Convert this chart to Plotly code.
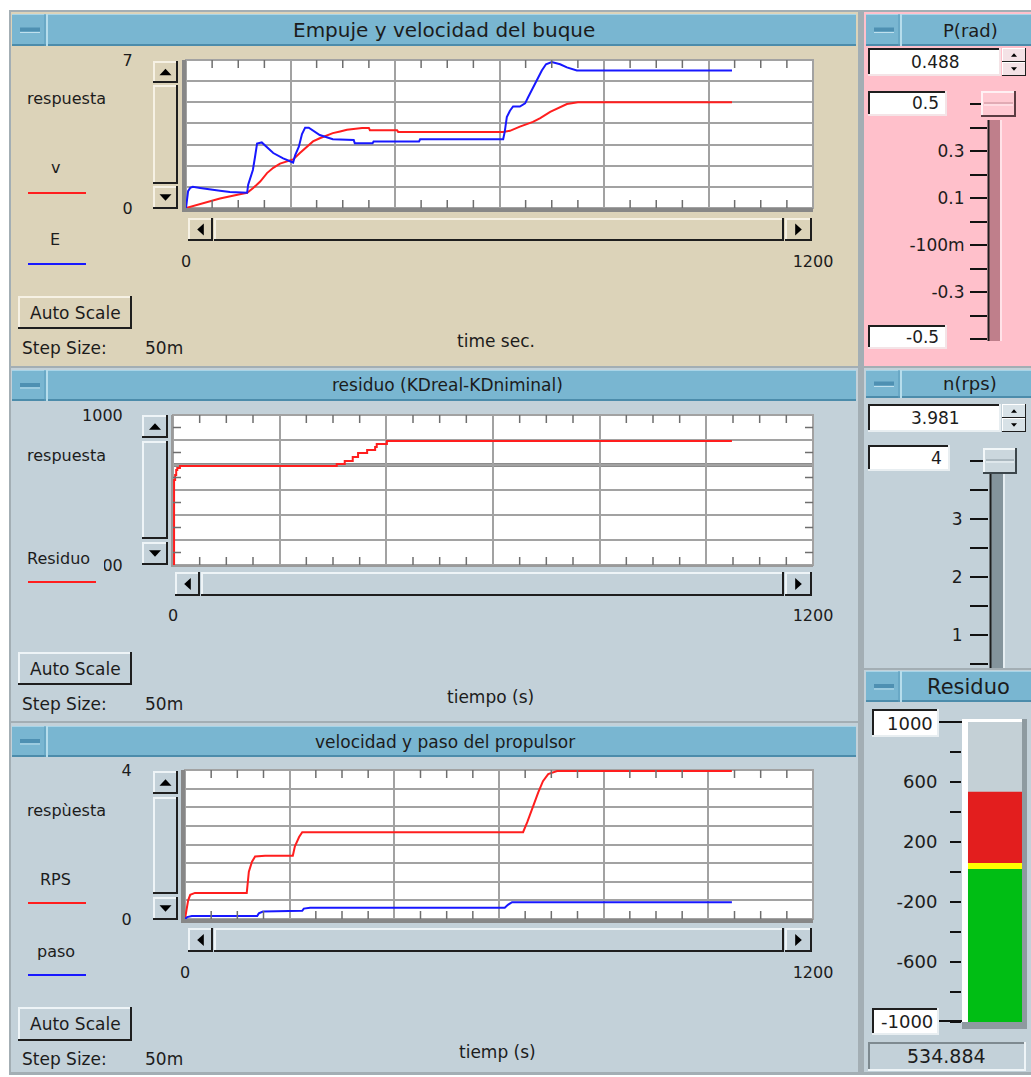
import plotly.graph_objects as go

W, H = 1031, 1077
FONT = "DejaVu Sans"
TXT = "#1c1c1c"

# ---------------- data ----------------
# Panel 1: Empuje y velocidad del buque (time sec.)
t_v = [0, 27, 65, 103, 117, 128, 142, 155, 167, 180, 193, 205, 218, 232, 243, 256, 270, 281, 295, 308,
       337, 350, 352, 404, 406, 607, 620, 639, 664, 678, 697, 716, 729, 750, 1045]
v_vals = [0, 0.2, 0.45, 0.65, 0.72, 0.93, 1.25, 1.65, 1.9, 2.1, 2.2, 2.3, 2.6, 2.9, 3.15, 3.3, 3.45, 3.54, 3.62, 3.7,
          3.78, 3.78, 3.68, 3.68, 3.6, 3.6, 3.65, 3.85, 4.07, 4.25, 4.55, 4.75, 4.92, 5.0, 5.0]
t_E = [0, 2, 4, 8, 13, 27, 46, 65, 84, 117, 119, 122, 128, 132, 136, 145, 157, 167, 186, 205,
       209, 216, 222, 228, 235, 247, 256, 281, 300, 321, 323, 357, 359, 446, 448, 607, 610, 614, 620, 626,
       639, 649, 655, 664, 674, 681, 689, 700, 716, 729, 748, 1045]
E_vals = [0, 0.5, 0.8, 0.95, 1.0, 0.95, 0.9, 0.82, 0.76, 0.72, 1.1, 1.3, 1.8, 2.4, 3.05, 3.1, 2.85, 2.6, 2.35, 2.15,
          2.5, 2.9, 3.5, 3.8, 3.8, 3.6, 3.45, 3.25, 3.22, 3.22, 3.06, 3.06, 3.14, 3.14, 3.25, 3.25, 3.6, 4.3, 4.6, 4.8,
          4.8, 4.95, 5.25, 5.7, 6.15, 6.5, 6.8, 6.9, 6.8, 6.65, 6.5, 6.5]

# Panel 2: residuo (KDreal-KDniminal)
t_res = [0, 2, 4, 6, 8, 13, 304, 307, 322, 337, 347, 364, 379, 382, 401, 1048]
res_vals = [-1000, 133, 200, 267, 293, 320, 320, 347, 387, 440, 493, 533, 573, 613, 653, 653]
res_ref_line = 333.3

# Panel 3: velocidad y paso del propulsor
t_rps = [0, 2, 4, 6, 10, 19, 118, 120, 122, 128, 134, 153, 206, 210, 214, 218, 224, 646, 654, 659,
         665, 675, 684, 694, 711, 1045]
rps_vals = [0, 0.2, 0.32, 0.5, 0.65, 0.7, 0.7, 1.0, 1.27, 1.54, 1.68, 1.7, 1.7, 1.95, 2.1, 2.2, 2.33, 2.33, 2.6, 2.8,
            3.0, 3.4, 3.7, 3.89, 3.97, 3.97]
t_paso = [0, 4, 13, 138, 141, 149, 224, 227, 239, 611, 617, 625, 1045]
paso_vals = [0, 0.05, 0.08, 0.08, 0.15, 0.2, 0.22, 0.28, 0.3, 0.3, 0.38, 0.45, 0.45]

# axes ticks
x_tick_vals = [0, 200, 400, 600, 800, 1000, 1200]
x_tick_text = ["0", "", "", "", "", "", "1200"]
x_minor_vals = [50, 100, 150, 250, 300, 350, 450, 500, 550, 650, 700, 750, 850, 900, 950, 1050, 1100, 1150]
y1_tick_vals = [0, 1, 2, 3, 4, 5, 6, 7]
y1_tick_text = ["0", "", "", "", "", "", "", "7"]
y2_tick_vals = [-1000, -666.67, -333.33, 0, 333.33, 666.67, 1000]
y2_tick_text = ["-1000", "", "", "", "", "", "1000"]
y2_minor_vals = [-833.33, -500, -166.67, 166.67, 500, 833.33]
y3_tick_vals = [0, 0.5, 1, 1.5, 2, 2.5, 3, 3.5, 4]
y3_tick_text = ["0", "", "", "", "", "", "", "", "4"]

# controls
p_rad_value = "0.488"
p_rad_set = 0.5
p_tick_vals = [0.5, 0.3, 0.1, -0.1, -0.3, -0.5]
p_tick_text = ["", "0.3", "0.1", "-100m", "-0.3", ""]
p_minor_vals = [0.4, 0.2, 0.0, -0.2, -0.4]
n_rps_value = "3.981"
n_rps_set = 4
n_tick_vals = [4, 3, 2, 1]
n_tick_text = ["", "3", "2", "1"]
n_minor_vals = [3.5, 2.5, 1.5, 0.5]
residuo_value = 534.884
tank_green_top = 20
tank_yellow_top = 60
tank_tick_vals = [1000, 600, 200, -200, -600, -1000]
tank_tick_text = ["", "600", "200", "-200", "-600", ""]
tank_minor_vals = [800, 400, 0, -400, -800]

# ---------------- styling ----------------
BEIGE = "#DCD3B9"
BEIGE_L = "#F6F1E4"
BG2 = "#C3D1D9"
BG2_L = "#EEF4F7"
PINK = "#FFC0CB"
BLUE = "#79B6D1"
DARK = "#1E1E1E"
GRID = "#A2A2A2"
TICKC = "#6E6E6E"
RED = "#FF1E1E"
BLU = "#1818FF"

shapes = []
annotations = []


def X(px):
    return px / W


def Y(py):
    return 1 - py / H


def rect(x0, y0, x1, y1, fill, layer="below"):
    shapes.append(dict(type="rect", xref="paper", yref="paper", x0=X(x0), x1=X(x1), y0=Y(y1), y1=Y(y0),
                       fillcolor=fill, line=dict(width=0), layer=layer))


def hline(x0, x1, y, color, lw=1, layer="below"):
    shapes.append(dict(type="line", xref="paper", yref="paper", x0=X(x0), x1=X(x1), y0=Y(y), y1=Y(y),
                       line=dict(color=color, width=lw), layer=layer))


def vline(x, y0, y1, color, lw=1, layer="below"):
    shapes.append(dict(type="line", xref="paper", yref="paper", x0=X(x), x1=X(x), y0=Y(y0), y1=Y(y1),
                       line=dict(color=color, width=lw), layer=layer))


def bevel(x0, y0, x1, y1, fill, light, dark, lw=2, layer="below"):
    rect(x0, y0, x1, y1, fill, layer)
    hline(x0, x1, y0 + lw / 2, light, lw, layer)
    vline(x0 + lw / 2, y0, y1, light, lw, layer)
    hline(x0, x1, y1 - lw / 2, dark, lw, layer)
    vline(x1 - lw / 2, y0, y1, dark, lw, layer)


def tri(cx, cy, d, s=5, color="#000"):
    if d == "up":
        pts = [(cx - s, cy + s * 0.55), (cx + s, cy + s * 0.55), (cx, cy - s * 0.55)]
    elif d == "down":
        pts = [(cx - s, cy - s * 0.55), (cx + s, cy - s * 0.55), (cx, cy + s * 0.55)]
    elif d == "left":
        pts = [(cx + s * 0.55, cy - s), (cx + s * 0.55, cy + s), (cx - s * 0.55, cy)]
    else:
        pts = [(cx - s * 0.55, cy - s), (cx - s * 0.55, cy + s), (cx + s * 0.55, cy)]
    path = "M " + " L ".join(f"{X(a):.5f},{Y(b):.5f}" for a, b in pts) + " Z"
    shapes.append(dict(type="path", xref="paper", yref="paper", path=path, fillcolor=color,
                       line=dict(width=0), layer="below"))


def text(s, x, y, size=16, xanchor="center", color=TXT, **kw):
    annotations.append(dict(text=s, x=X(x), y=Y(y), xref="paper", yref="paper", xanchor=xanchor,
                            yanchor="middle", showarrow=False, font=dict(family=FONT, size=size, color=color), **kw))


def title_bar(x0, y0, x1, y1, label, size, cx):
    rect(x0, y0, x1, y1, BLUE)
    hline(x0, x1, y0 + 0.5, "#A8D4E7", 1)
    hline(x0, x1, y1 - 1, "#4C8CAB", 2)
    vline(x0 + 33, y0, y1, "#5A9BBA", 1)
    vline(x0 + 35, y0, y1, "#B6DDEC", 2)
    cy = (y0 + y1) / 2
    rect(x0 + 8, cy - 2.5, x0 + 28, cy + 1.5, "#4E90B2")
    hline(x0 + 8, x0 + 28, cy + 2.5, "#BFE0EE", 1)
    text(label, cx, cy, size)


def scrollbars(ys, xs, fill, light):
    x0, x1, a0, a1, b0, b1, c0, c1 = ys
    bevel(x0, a0, x1, a1, fill, light, DARK)
    bevel(x0, b0, x1, b1, fill, light, DARK)
    bevel(x0, c0, x1, c1, fill, light, DARK)
    tri((x0 + x1) / 2, (a0 + a1) / 2, "up", 6)
    tri((x0 + x1) / 2, (c0 + c1) / 2, "down", 6)
    y0, y1, a0, a1, b0, b1, c0, c1 = xs
    bevel(a0, y0, a1, y1, fill, light, DARK)
    bevel(b0, y0, b1, y1, fill, light, DARK)
    bevel(c0, y0, c1, y1, fill, light, DARK)
    tri((a0 + a1) / 2, (y0 + y1) / 2, "left", 6)
    tri((c0 + c1) / 2, (y0 + y1) / 2, "right", 6)


def auto_scale(y0, y1, fill, light):
    bevel(18, y0, 132, y1, fill, light, DARK)
    text("Auto Scale", 75, (y0 + y1) / 2, 17)


# ---------------- frame & panels ----------------
rect(9, 10, 1031, 1075, "#A3AEB4")
rect(11, 12, 858, 366, BEIGE)
rect(11, 368, 858, 721, BG2)
rect(11, 723, 858, 1072, BG2)
rect(864, 12, 1031, 366, PINK)
rect(864, 368, 1031, 668, BG2)
rect(864, 670, 1031, 1072, BG2)

# ---- top-left panel
title_bar(12, 14, 856, 46, "Empuje y velocidad del buque", 20, 444)
scrollbars((153, 178, 61, 83, 85, 184, 186, 209), (218, 241, 188, 213, 214, 784, 785, 812), BEIGE, BEIGE_L)
rect(186, 60, 813, 208, "white")
auto_scale(296, 329, BEIGE, BEIGE_L)
text("respuesta", 25, 99, 16, "left")
text("v", 55, 168, 16)
hline(28, 86, 193, RED, 2, "above")
text("E", 55, 239, 16)
hline(28, 86, 264, BLU, 2, "above")
text("Step Size:", 20, 348, 17, "left")
text("50m", 143, 348, 17, "left")
text("time sec.", 496, 341, 17)

# ---- middle-left panel
title_bar(12, 370, 856, 401, "residuo (KDreal-KDniminal)", 17, 447)
scrollbars((142, 168, 415, 438, 441, 539, 542, 565), (572, 596, 175, 200, 201, 784, 785, 812), BG2, BG2_L)
rect(173, 415, 813, 565, "white")
auto_scale(652, 685, BG2, BG2_L)
text("respuesta", 25, 455, 16, "left")
rect(22, 544, 104, 579, BG2, layer="above")
text("Residuo", 25, 558, 16, "left")
hline(28, 96, 582, RED, 2, "above")
text("Step Size:", 20, 704, 17, "left")
text("50m", 143, 704, 17, "left")
text("tiempo (s)", 490, 697, 17)

# ---- bottom-left panel
title_bar(12, 726, 856, 757, "velocidad y paso del propulsor", 17, 445)
scrollbars((153, 178, 771, 794, 797, 894, 897, 920), (928, 952, 188, 213, 214, 784, 785, 812), BG2, BG2_L)
rect(185, 770, 813, 919, "white")
auto_scale(1007, 1041, BG2, BG2_L)
text("respùesta", 25, 810, 16, "left")
text("RPS", 55, 879, 16)
hline(28, 86, 903, RED, 2, "above")
text("paso", 56, 951, 16)
hline(28, 86, 975, BLU, 2, "above")
text("Step Size:", 20, 1059, 17, "left")
text("50m", 143, 1059, 17, "left")
text("tiemp (s)", 497, 1052, 17)

# ---- P(rad) panel
title_bar(866, 14, 1031, 46, "P(rad)", 18, 970)
bevel(868, 48, 1001, 76, "white", DARK, "#F4E4E7")
text(p_rad_value, 935, 62, 17)
bevel(1002, 48, 1026, 62, "#F4E2E6", "white", DARK, 1)
bevel(1002, 62, 1026, 76, "#F4E2E6", "white", DARK, 1)
tri(1014, 55, "up", 3)
tri(1014, 69, "down", 3)
bevel(868, 91, 947, 116, "white", DARK, "#F4E4E7")
text(f"{p_rad_set:g}", 941, 103.5, 17, "right")
rect(988, 120, 1001, 341, "#BF7F8B")
vline(988.5, 120, 341, DARK, 2)
vline(1001, 120, 341, "#FFE2E8", 2)
bevel(868, 325, 947, 349, "white", DARK, "#F4E4E7")
text("-0.5", 941, 337, 17, "right")

# ---- n(rps) panel
title_bar(866, 370, 1031, 398, "n(rps)", 18, 970)
bevel(868, 404, 1001, 432, "white", DARK, "#E8EEF1")
text(n_rps_value, 935, 418, 17)
bevel(1002, 404, 1026, 418, "#D8E2E7", "white", DARK, 1)
bevel(1002, 418, 1026, 432, "#D8E2E7", "white", DARK, 1)
tri(1014, 411, "up", 3)
tri(1014, 425, "down", 3)
bevel(868, 445, 950, 471, "white", DARK, "#E8EEF1")
text(f"{n_rps_set:g}", 944, 458, 17, "right")
rect(990, 474, 1004, 668, "#84949C")
vline(990.5, 474, 668, DARK, 2)
vline(1004, 474, 668, "#E6EEF2", 2)

# ---- Residuo panel
title_bar(866, 671, 1031, 702, "Residuo", 21, 968)
rect(962, 719, 1027, 1029, "#8E9AA0")
rect(962, 719, 1022, 1022, "white")
rect(968, 722, 1022, 1022, "#C4D0D6")
bevel(872, 709, 939, 737, "white", DARK, "#E8EEF1")
text("1000", 935, 723, 18, "right")
bevel(872, 1008, 939, 1035, "white", DARK, "#E8EEF1")
text("-1000", 935, 1021.5, 18, "right")
bevel(868, 1042, 1026, 1071, BG2, "#7E8A90", "#EEF4F7")
text(f"{residuo_value:.3f}", 946, 1056, 19)
hline(939, 962, 722, "#111", 2, "above")
hline(939, 962, 1021, "#111", 2, "above")

# ---------------- figure ----------------
fig = go.Figure()
line_kw = dict(mode="lines", hoverinfo="skip", showlegend=False)
fig.add_trace(go.Scatter(x=t_v, y=v_vals, line=dict(color=RED, width=2), xaxis="x", yaxis="y", **line_kw))
fig.add_trace(go.Scatter(x=t_E, y=E_vals, line=dict(color=BLU, width=2), xaxis="x", yaxis="y", **line_kw))
fig.add_trace(go.Scatter(x=t_res, y=res_vals, line=dict(color=RED, width=2, shape="hv"), xaxis="x2", yaxis="y2",
                         **line_kw))
fig.add_trace(go.Scatter(x=t_rps, y=rps_vals, line=dict(color=RED, width=2), xaxis="x3", yaxis="y3", **line_kw))
fig.add_trace(go.Scatter(x=t_paso, y=paso_vals, line=dict(color=BLU, width=2), xaxis="x3", yaxis="y3", **line_kw))
fig.add_trace(go.Scatter(x=[None], y=[None], xaxis="x4", yaxis="y4", **line_kw))
fig.add_trace(go.Scatter(x=[None], y=[None], xaxis="x5", yaxis="y5", **line_kw))
bar_kw = dict(x=[0], width=[1], xaxis="x6", yaxis="y6", hoverinfo="skip", showlegend=False,
              marker_line_width=0)
fig.add_trace(go.Bar(y=[tank_green_top + 1000], base=[-1000], marker_color="#00BE14", **bar_kw))
fig.add_trace(go.Bar(y=[tank_yellow_top - tank_green_top], base=[tank_green_top], marker_color="#FFFF00", **bar_kw))
fig.add_trace(go.Bar(y=[residuo_value - tank_yellow_top], base=[tank_yellow_top], marker_color="#E31E1E", **bar_kw))

tf = dict(family=FONT, size=16, color=TXT)


def main_x(dom, anchor, standoff):
    return dict(domain=[X(dom[0]), X(dom[1])], anchor=anchor, range=[0, 1200], tickvals=x_tick_vals,
                ticktext=x_tick_text, showgrid=True, gridcolor=GRID, gridwidth=2, zeroline=False, ticks="",
                tickfont=tf, ticklabelstandoff=standoff, fixedrange=True, automargin=False)


def main_y(dom, anchor, rng, vals, txt, standoff):
    return dict(domain=[Y(dom[1]), Y(dom[0])], anchor=anchor, range=rng, tickvals=vals, ticktext=txt,
                showgrid=True, gridcolor=GRID, gridwidth=2, zeroline=False, ticks="", tickfont=tf,
                ticklabelstandoff=standoff, fixedrange=True, automargin=False)


thick = dict(showline=True, linewidth=4, linecolor="#878787")
thin = dict(showline=True, linewidth=2, linecolor="#9A9A9A")

layout = dict(
    xaxis=dict(**main_x((186, 813), "y", 36), **thick),
    yaxis=dict(**main_y((60, 208), "x", [0, 7], y1_tick_vals, y1_tick_text, 46), **thick),
    xaxis2=dict(**main_x((173, 813), "y2", 35), **thin),
    yaxis2=dict(**main_y((415, 565), "x2", [-1000, 1000], y2_tick_vals, y2_tick_text, 45), **thin),
    xaxis3=dict(**main_x((185, 813), "y3", 36), **thick),
    yaxis3=dict(**main_y((770, 919), "x3", [0, 4], y3_tick_vals, y3_tick_text, 46), **thick),
)

rf = dict(family=FONT, size=17, color=TXT)
tk = dict(ticks="outside", tickwidth=2, tickcolor="#111")
# slider scales: domain extended above the top value so the handle isn't clipped
p_px_per_unit = (339 - 104) / 1.0
p_top = 0.5 + (104 - 76) / p_px_per_unit
layout["xaxis4"] = dict(domain=[X(988), X(1001)], anchor="y4", range=[0, 1], visible=False, fixedrange=True,
                        automargin=False)
layout["yaxis4"] = dict(domain=[Y(339), Y(76)], anchor="x4", range=[-0.5, p_top], tickvals=p_tick_vals,
                        ticktext=p_tick_text, ticklen=17, **tk, tickfont=rf, showgrid=False, zeroline=False,
                        showline=False, ticklabelstandoff=2, fixedrange=True, automargin=False,
                        minor=dict(tickvals=p_minor_vals, ticklen=17, **tk))
n_px_per_unit = (664 - 461) / 3.5
n_top = 4 + (461 - 438) / n_px_per_unit
layout["xaxis5"] = dict(domain=[X(989), X(1004)], anchor="y5", range=[0, 1], visible=False, fixedrange=True,
                        automargin=False)
layout["yaxis5"] = dict(domain=[Y(664), Y(438)], anchor="x5", range=[0.5, n_top], tickvals=n_tick_vals,
                        ticktext=n_tick_text, ticklen=18, **tk, tickfont=rf, showgrid=False, zeroline=False,
                        showline=False, ticklabelstandoff=4, fixedrange=True, automargin=False,
                        minor=dict(tickvals=n_minor_vals, ticklen=18, **tk))
layout["xaxis6"] = dict(domain=[X(962), X(1022)], anchor="y6", range=[-0.611, 0.5], visible=False,
                        fixedrange=True, automargin=False)
layout["yaxis6"] = dict(domain=[Y(1022), Y(722)], anchor="x6", range=[-1000, 1000], tickvals=tank_tick_vals,
                        ticktext=tank_tick_text, ticklen=11, **tk, tickfont=dict(family=FONT, size=18, color=TXT),
                        showgrid=False, zeroline=False, showline=False, ticklabelstandoff=9, fixedrange=True,
                        automargin=False, minor=dict(tickvals=tank_minor_vals, ticklen=11, **tk))


def minor_x(xa, ya, h_px):
    f = 8 / h_px
    for v in x_minor_vals:
        for a, b in ((1, 1 - f), (0, f)):
            shapes.append(dict(type="line", xref=xa, yref=ya + " domain", x0=v, x1=v, y0=a, y1=b,
                               line=dict(color=TICKC, width=1.5), layer="above"))


minor_x("x", "y", 148)
minor_x("x2", "y2", 150)
minor_x("x3", "y3", 149)
for v in y2_minor_vals:
    for a, b in ((0, 8 / 640), (1, 1 - 8 / 640)):
        shapes.append(dict(type="line", xref="x2 domain", yref="y2", x0=a, x1=b, y0=v, y1=v,
                           line=dict(color=TICKC, width=1.5), layer="above"))
shapes.append(dict(type="line", xref="x2 domain", yref="y2", x0=0, x1=1, y0=res_ref_line, y1=res_ref_line,
                   line=dict(color="#8C8C8C", width=4), layer="below"))
for xa, ya in (("x", "y"), ("x2", "y2"), ("x3", "y3")):
    shapes.append(dict(type="rect", xref=xa + " domain", yref=ya + " domain", x0=0, x1=1, y0=0, y1=1,
                       line=dict(color=GRID, width=2), fillcolor="rgba(0,0,0,0)", layer="below"))


def handle(yref, val, x0, x1, fill, light, dark, mid1, mid2):
    base = dict(xref="paper", yref=yref, ysizemode="pixel", yanchor=val, layer="above")
    shapes.append(dict(type="rect", x0=X(x0), x1=X(x1), y0=-13, y1=13, fillcolor=fill,
                       line=dict(width=0), **base))
    shapes.append(dict(type="line", x0=X(x0), x1=X(x1), y0=12, y1=12, line=dict(color=light, width=2), **base))
    shapes.append(dict(type="line", x0=X(x0 + 1), x1=X(x0 + 1), y0=-13, y1=13, line=dict(color=light, width=2),
                       **base))
    shapes.append(dict(type="line", x0=X(x0), x1=X(x1), y0=-12, y1=-12, line=dict(color=dark, width=2), **base))
    shapes.append(dict(type="line", x0=X(x1 - 1), x1=X(x1 - 1), y0=-13, y1=13, line=dict(color=dark, width=2),
                       **base))
    shapes.append(dict(type="line", x0=X(x0 + 3), x1=X(x1 - 3), y0=1, y1=1, line=dict(color=mid1, width=1), **base))
    shapes.append(dict(type="line", x0=X(x0 + 3), x1=X(x1 - 3), y0=-1, y1=-1, line=dict(color=mid2, width=1),
                       **base))


handle("y4", p_rad_set, 981, 1016, "#FFC9D2", "#FFF0F3", "#5A3C42", "#C48C97", "#FFF0F3")
handle("y5", n_rps_set, 983, 1017, "#CBD7DD", "#F2F7F9", "#3C464B", "#8C9AA2", "#F2F7F9")

layout.update(dict(width=W, height=H, margin=dict(l=0, r=0, t=0, b=0, pad=0, autoexpand=False),
                   paper_bgcolor="white", plot_bgcolor="rgba(0,0,0,0)", showlegend=False, barmode="overlay",
                   shapes=shapes, annotations=annotations, font=dict(family=FONT, color=TXT)))
fig.update_layout(**layout)
fig.write_html("out.html", config={"displayModeBar": False},
               post_script="document.body.style.margin='0';document.body.style.padding='0';"
                           "document.documentElement.style.overflow='hidden';")
